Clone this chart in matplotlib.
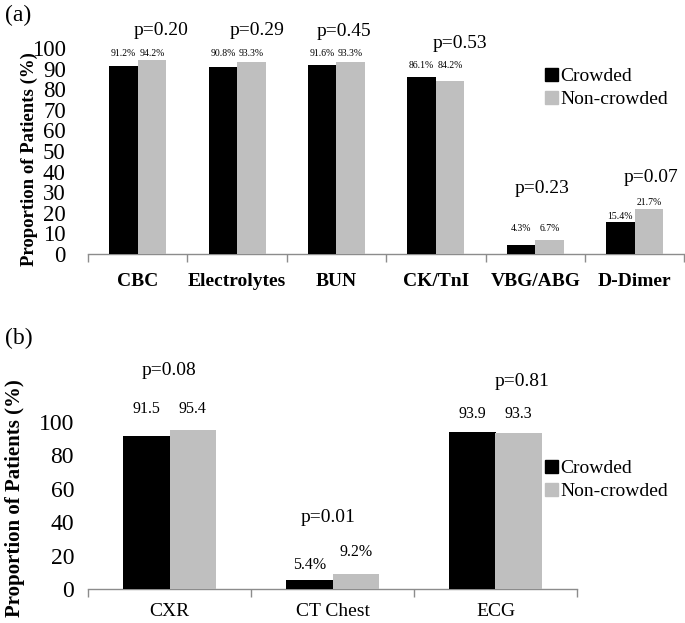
import matplotlib
matplotlib.use("Agg")
import matplotlib.pyplot as plt
import numpy as np
from matplotlib.patches import Patch

plt.rcParams['font.family'] = ['Liberation Serif', 'DejaVu Serif']

# ---------------- data ----------------
tests_a = ['CBC', 'Electrolytes', 'BUN', 'CK/TnI', 'VBG/ABG', 'D-Dimer']
crowded_a = [91.2, 90.8, 91.6, 86.1, 4.3, 15.4]
noncrowded_a = [94.2, 93.3, 93.3, 84.2, 6.7, 21.7]
pvals_a = ['p=0.20', 'p=0.29', 'p=0.45', 'p=0.53', 'p=0.23', 'p=0.07']

tests_b = ['CXR', 'CT Chest', 'ECG']
crowded_b = [91.5, 5.4, 93.9]
noncrowded_b = [95.4, 9.2, 93.3]
crowded_b_labels = ['91.5', '5.4%', '93.9']
noncrowded_b_labels = ['95.4', '9.2%', '93.3']
pvals_b = ['p=0.08', 'p=0.01', 'p=0.81']

series_names = ['Crowded', 'Non-crowded']

# ---------------- layout ----------------
BLACK = '#000000'
GRAY = '#BFBFBF'
bw = 0.286
off_c_a = [6.3, 6.7, 5.9, 5.6, 8.3, 3.0]
off_n_a = [3.3, 4.2, 4.2, 7.5, 5.9, 3.1]
p_y_a = [108.7, 108.7, 108.0, 102.4, 32.0, 37.0]
p_dx_a = [0.24, 0.20, 0.08, 0.24, 0.07, 0.16]

off_c_b = [16.5, 9.0, 11.1]
off_n_b = [12.6, 12.8, 11.7]
p_y_b = [131.0, 43.0, 124.0]
p_dx_b = [0.0, -0.03, 0.16]

W, H = 685, 623
fig = plt.figure(figsize=(W / 100, H / 100), dpi=100)

def fx(px):
    return px / W

def fy(py):
    return 1 - py / H

def style_axis(ax, n, yticks, ypad, ysize):
    ax.set_xlim(-0.5, n - 0.5)
    ax.set_ylim(0, 100)
    for s in ['left', 'right', 'top']:
        ax.spines[s].set_visible(False)
    ax.spines['bottom'].set_color('#8c8c8c')
    ax.spines['bottom'].set_linewidth(1.0)
    ax.set_xticks(np.arange(-0.5, n, 1.0))
    ax.set_xticklabels([])
    ax.tick_params(axis='x', which='major', length=6, color='#8c8c8c', width=1.0)
    ax.set_yticks(yticks)
    ax.tick_params(axis='y', length=0, pad=ypad, labelsize=ysize)
    ax.patch.set_alpha(0)

# ---------- panel (a) ----------
axa = fig.add_axes([fx(88), fy(254), fx(685 - 88) - 0.001, (254 - 48) / H])
xa = np.arange(len(tests_a))
axa.bar(xa - bw / 2, crowded_a, bw, color=BLACK, zorder=3)
axa.bar(xa + bw / 2, noncrowded_a, bw, color=GRAY, zorder=3)
style_axis(axa, len(tests_a), np.arange(0, 101, 10), 16, 16.5)
axa.set_xticks(xa, minor=True)
axa.set_xticklabels(tests_a, minor=True, fontsize=14, fontweight='bold')
axa.tick_params(axis='x', which='minor', length=0, pad=14)
for i in range(len(tests_a)):
    axa.text(xa[i] - bw / 2, crowded_a[i] + off_c_a[i], f'{crowded_a[i]:.1f}%',
             ha='center', va='center', fontsize=7, clip_on=False)
    axa.text(xa[i] + bw / 2, noncrowded_a[i] + off_n_a[i], f'{noncrowded_a[i]:.1f}%',
             ha='center', va='center', fontsize=7, clip_on=False)
    axa.text(xa[i] + p_dx_a[i], p_y_a[i], pvals_a[i], ha='center', va='center',
             fontsize=14, clip_on=False)

fig.text(fx(29), fy(159), 'Proportion of Patients (%)', rotation=90,
         ha='center', va='center', fontsize=13.5, fontweight='bold')
fig.text(fx(5), fy(15), '(a)', ha='left', va='center', fontsize=17)

handles = [Patch(color=BLACK), Patch(color=GRAY)]
fig.legend(handles, series_names, loc='upper left', bbox_to_anchor=(fx(545), fy(68)),
           frameon=False, fontsize=14, handlelength=0.65, handleheight=0.65,
           handletextpad=0.15, labelspacing=0.3, borderpad=0, borderaxespad=0)

# ---------- panel (b) ----------
axb = fig.add_axes([fx(88), fy(589), fx(577 - 88), (589 - 422) / H])
xb = np.arange(len(tests_b))
axb.bar(xb - bw / 2, crowded_b, bw, color=BLACK, zorder=3)
axb.bar(xb + bw / 2, noncrowded_b, bw, color=GRAY, zorder=3)
style_axis(axb, len(tests_b), np.arange(0, 101, 20), 10, 17)
axb.set_xticks(xb, minor=True)
axb.set_xticklabels(tests_b, minor=True, fontsize=14)
axb.tick_params(axis='x', which='minor', length=0, pad=10)
for i in range(len(tests_b)):
    axb.text(xb[i] - bw / 2, crowded_b[i] + off_c_b[i], crowded_b_labels[i],
             ha='center', va='center', fontsize=11.5, clip_on=False)
    axb.text(xb[i] + bw / 2, noncrowded_b[i] + off_n_b[i], noncrowded_b_labels[i],
             ha='center', va='center', fontsize=11.5, clip_on=False)
    axb.text(xb[i] + p_dx_b[i], p_y_b[i], pvals_b[i], ha='center', va='center',
             fontsize=14, clip_on=False)

fig.text(fx(15), fy(498), 'Proportion of Patients (%)', rotation=90,
         ha='center', va='center', fontsize=15, fontweight='bold')
fig.text(fx(5), fy(338), '(b)', ha='left', va='center', fontsize=17)

fig.legend(handles, series_names, loc='upper left', bbox_to_anchor=(fx(545), fy(460)),
           frameon=False, fontsize=14, handlelength=0.65, handleheight=0.65,
           handletextpad=0.15, labelspacing=0.3, borderpad=0, borderaxespad=0)

fig.savefig('out.png', dpi=100)
